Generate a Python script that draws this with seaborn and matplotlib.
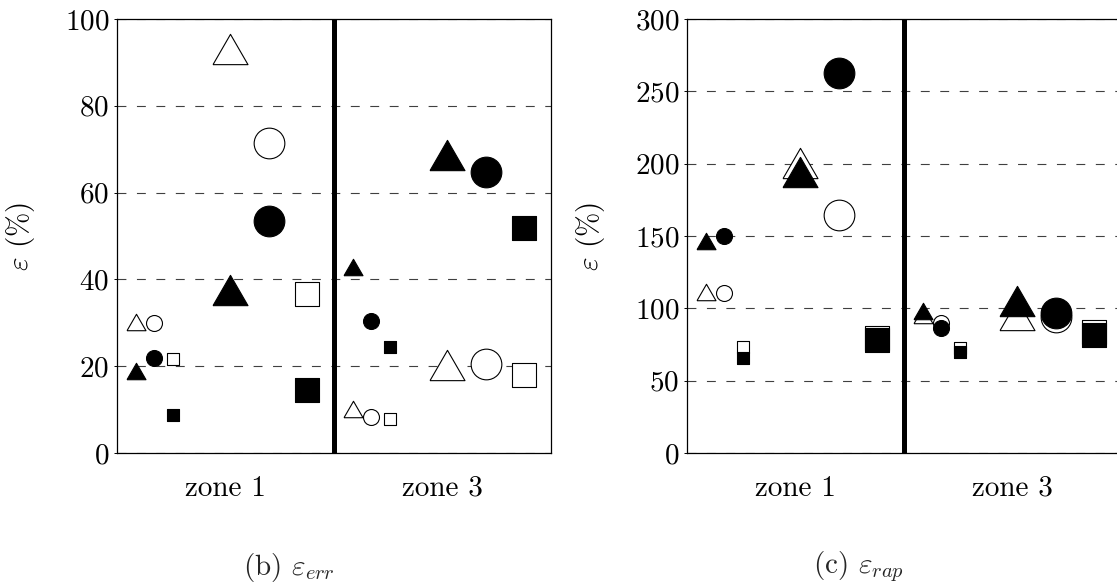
import numpy as np
import pandas as pd
import matplotlib
matplotlib.use("Agg")
import matplotlib.pyplot as plt
from matplotlib.markers import MarkerStyle
import seaborn as sns

# zones on the x axis
zones = ["zone 1", "zone 3"]

# marker series: (shape, size, fill) -> values per zone
shapes = ["triangle", "circle", "square"]

# panel (b) epsilon_err, values in %
err_small_open = {"triangle": [30.2, 10.1], "circle": [30.0, 8.4], "square": [21.6, 7.8]}
err_small_filled = {"triangle": [19.0, 42.9], "circle": [22.0, 30.4], "square": [8.7, 24.5]}
err_large_open = {"triangle": [93.0, 20.3], "circle": [71.5, 20.4], "square": [36.6, 18.0]}
err_large_filled = {"triangle": [37.5, 68.7], "circle": [53.5, 64.8], "square": [14.5, 51.8]}

# panel (c) epsilon_rap, values in %
rap_small_open = {"triangle": [111.3, 95.2], "circle": [110.4, 89.6], "square": [73.5, 72.4]}
rap_small_filled = {"triangle": [146.8, 98.4], "circle": [150.0, 86.2], "square": [65.9, 70.0]}
rap_large_open = {"triangle": [200.2, 95.4], "circle": [164.5, 94.2], "square": [79.7, 83.9]}
rap_large_filled = {"triangle": [194.5, 105.3], "circle": [262.9, 97.0], "square": [78.0, 81.6]}

err_ticks = [0, 20, 40, 60, 80, 100]
rap_ticks = [0, 50, 100, 150, 200, 250, 300]


def to_frame(small_open, small_filled, large_open, large_filled):
    rows = []
    for size, fill, d in [("small", "open", small_open), ("small", "filled", small_filled),
                          ("large", "open", large_open), ("large", "filled", large_filled)]:
        for shape in shapes:
            for zi, z in enumerate(zones):
                rows.append(dict(zone=z, zi=zi, shape=shape, size=size, fill=fill, value=d[shape][zi]))
    return pd.DataFrame(rows)


df_err = to_frame(err_small_open, err_small_filled, err_large_open, err_large_filled)
df_rap = to_frame(rap_small_open, rap_small_filled, rap_large_open, rap_large_filled)

sns.set_theme(style="white")
plt.rcParams["font.family"] = ["cmr10", "DejaVu Serif"]
plt.rcParams["mathtext.fontset"] = "cm"
plt.rcParams["axes.formatter.use_mathtext"] = True
plt.rcParams["axes.unicode_minus"] = False

# equilateral triangle marker, like pgfplots
tri = MarkerStyle(np.array([[-1, -0.866], [1, -0.866], [0, 0.866], [-1, -0.866]]))
marker_of = {"triangle": tri, "circle": "o", "square": "s"}
# offset inside a zone (layout) and marker area in pt^2
offset = {("small", "triangle"): 0.088, ("small", "circle"): 0.171, ("small", "square"): 0.259,
          ("large", "triangle"): 0.523, ("large", "circle"): 0.699, ("large", "square"): 0.875}
area = {("small", "triangle"): 187, ("small", "circle"): 132, ("small", "square"): 83,
        ("large", "triangle"): 635, ("large", "circle"): 488, ("large", "square"): 299}

fig = plt.figure(figsize=(11.17, 5.87), dpi=100)
ax1 = fig.add_axes([117 / 1117, 134 / 587, 434 / 1117, 434 / 587])
ax2 = fig.add_axes([687 / 1117, 134 / 587, 434 / 1117, 434 / 587])

FS = 21


def draw(ax, df, ticks):
    for fill in ["open", "filled"]:
        for size in ["small", "large"]:
            for shape in shapes:
                sub = df[(df["fill"] == fill) & (df["size"] == size) & (df["shape"] == shape)]
                xs = sub["zi"] + offset[(size, shape)]
                sns.scatterplot(x=xs.values, y=sub["value"].values, ax=ax,
                                marker=marker_of[shape], s=area[(size, shape)],
                                color="white" if fill == "open" else "black",
                                edgecolor="black", linewidth=0.8,
                                zorder=3 if fill == "open" else 4, legend=False)
    ax.set_xlim(0, 2)
    ax.set_ylim(ticks[0], ticks[-1])
    ax.set_yticks(ticks)
    ax.set_xticks([0.5, 1.5])
    ax.set_xticklabels(zones)
    ax.set_axisbelow(True)
    ax.grid(axis="y", color="0.25", linestyle=(0, (8, 9.5)), linewidth=0.8)
    ax.grid(axis="x", visible=False)
    ax.axvline(1, color="black", linewidth=3.6, zorder=5)
    for sp in ax.spines.values():
        sp.set_color("black")
        sp.set_linewidth(0.9)
    ax.tick_params(axis="y", direction="out", length=2.5, width=0.7, pad=3,
                   labelsize=FS, left=True, colors="black")
    ax.tick_params(axis="x", length=0, pad=16, labelsize=FS, colors="black")
    ax.set_ylabel(r"$\varepsilon$ (%)", fontsize=FS, labelpad=20, color="black")
    ax.set_xlabel("")


draw(ax1, df_err, err_ticks)
draw(ax2, df_rap, rap_ticks)

fig.text(289 / 1117, 1 - 567 / 587, r"(b) $\varepsilon_{err}$", ha="center", va="center", fontsize=FS)
fig.text(858 / 1117, 1 - 567 / 587, r"(c) $\varepsilon_{rap}$", ha="center", va="center", fontsize=FS)

fig.savefig("out.png", dpi=100, facecolor="white")
